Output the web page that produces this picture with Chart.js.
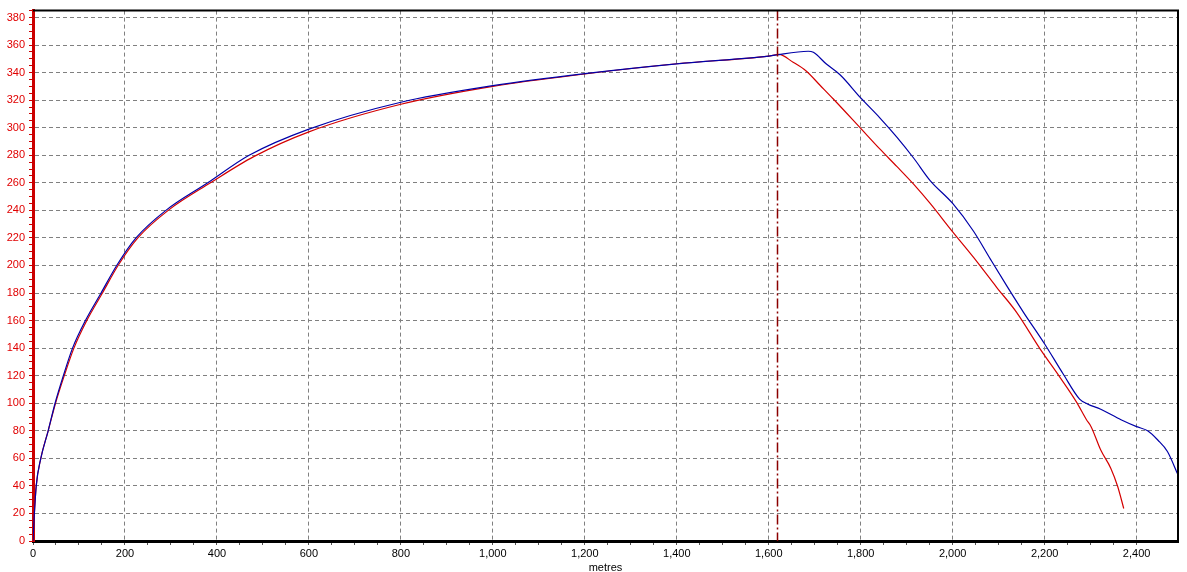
<!DOCTYPE html>
<html>
<head>
<meta charset="utf-8">
<script src="https://cdn.jsdelivr.net/npm/chart.js@4.4.1/dist/chart.umd.min.js"></script>
<style>
  html, body { margin: 0; padding: 0; background: #fff; overflow: hidden; }
</style>
</head>
<body>
<canvas id="chart" width="1187" height="572"></canvas>
<script>
// distance (metres) / speed readings for the two runs
var blueX = [0, 3, 7, 17, 33, 48, 66, 86, 114, 148, 182, 224, 289, 380, 470, 600, 800, 1000, 1200, 1400, 1600, 1686,
    1697, 1726, 1755, 1800, 1842, 1879, 1915, 1951, 2000, 2045, 2082, 2118, 2154, 2200, 2240, 2276, 2293, 2322,
    2366, 2400, 2424, 2446, 2467, 2490];
var blueY = [0, 20, 40, 60, 80, 100, 120, 140, 160, 180, 200, 220, 240, 260, 280, 299, 318.5, 330.5, 339.3, 346.4, 352, 355.5,
    354.7, 346, 338.4, 321.6, 307, 293, 278, 261.6, 245, 225, 204.6, 185, 166, 143, 121.4, 103, 99.5, 95.6,
    88, 83, 80, 73.3, 65, 48];

var redX = [0, 3, 7, 17, 33, 49, 68, 89, 117, 151, 185, 228, 294, 386, 480, 600, 800, 1000, 1200, 1400, 1600, 1622,
    1653, 1682, 1711, 1740, 1800, 1842, 1879, 1915, 1951, 2000, 2045, 2096, 2139, 2190, 2233, 2269, 2291, 2301,
    2322, 2344, 2359, 2372];
var redY = [0, 20, 40, 60, 80, 100, 120, 140, 160, 180, 200, 220, 240, 260, 279, 297, 317, 330, 339, 346.4, 352, 353.2,
    347.5, 341, 331, 321, 299.5, 284.4, 271.7, 259, 245, 224.4, 206, 184, 166, 139.5, 119, 101, 88, 83,
    66, 52.7, 39.4, 23.6];

var markerX = 1619;
var xMax = 2490;
var yMax = 385;

function toPoints(xs, ys) {
    var pts = [];
    for (var i = 0; i < xs.length; i++) {
        pts.push({ x: xs[i], y: ys[i] });
    }
    return pts;
}

var frame = {
    id: "frame",
    afterDatasetsDraw: function (chart) {
        var c = chart.ctx;
        var a = chart.chartArea;
        var px = Math.round(chart.scales.x.getPixelForValue(markerX)) + 0.5;
        c.save();
        c.strokeStyle = "#8b0000";
        c.lineWidth = 1.5;
        c.setLineDash([10, 3, 2, 3]);
        c.beginPath();
        c.moveTo(px, a.top);
        c.lineTo(px, a.bottom);
        c.stroke();
        c.restore();
    },
    afterDraw: function (chart) {
        var c = chart.ctx;
        var a = chart.chartArea;
        c.save();
        c.strokeStyle = "#000";
        c.lineWidth = 2;
        c.beginPath();
        c.moveTo(a.left, a.top);
        c.lineTo(a.right, a.top);
        c.lineTo(a.right, a.bottom);
        c.stroke();
        c.restore();
    }
};

var ctx = document.getElementById("chart").getContext("2d");
var myChart = new Chart(ctx, {
    type: "line",
    data: {
        datasets: [{
            data: toPoints(blueX, blueY),
            borderColor: "#0000a8",
            borderWidth: 1.2,
            pointRadius: 0,
            cubicInterpolationMode: "monotone",
            order: 0
        }, {
            data: toPoints(redX, redY),
            borderColor: "#d40000",
            borderWidth: 1.2,
            pointRadius: 0,
            cubicInterpolationMode: "monotone",
            order: 1
        }]
    },
    options: {
        responsive: false,
        animation: false,
        layout: {
            padding: { top: 8, right: 9, left: 0, bottom: 0 }
        },
        plugins: {
            legend: { display: false },
            tooltip: { enabled: false }
        },
        scales: {
            x: {
                type: "linear",
                min: 0,
                max: xMax,
                afterFit: function (scale) { scale.height = 31; },
                afterBuildTicks: function (scale) {
                    scale.ticks = scale.ticks.filter(function (t) { return t.value % 50 === 0; });
                },
                ticks: {
                    stepSize: 50,
                    autoSkip: false,
                    maxRotation: 0,
                    padding: 2,
                    color: "#000",
                    font: { family: "Liberation Sans", size: 11 },
                    callback: function (v) {
                        return v % 200 === 0 ? v.toLocaleString("en-US") : "";
                    }
                },
                grid: {
                    color: function (c) {
                        return c.tick && c.tick.value % 200 === 0 ? "#808080" : "rgba(0,0,0,0)";
                    },
                    tickColor: "#555",
                    tickLength: 4,
                    lineWidth: 1
                },
                border: { color: "#000", width: 3, dash: [4, 3] },
                title: {
                    display: true,
                    text: "metres",
                    color: "#000",
                    font: { family: "Liberation Sans", size: 11 },
                    padding: { top: 0, bottom: -3 }
                }
            },
            y: {
                min: 0,
                max: yMax,
                afterFit: function (scale) { scale.width = 33; },
                ticks: {
                    stepSize: 5,
                    autoSkip: false,
                    padding: 4,
                    color: "#e00000",
                    font: { family: "Liberation Sans", size: 11 },
                    callback: function (v) {
                        return v % 20 === 0 ? v : "";
                    }
                },
                grid: {
                    color: function (c) {
                        return c.tick && c.tick.value % 20 === 0 && c.tick.value > 0 ? "#808080" : "rgba(0,0,0,0)";
                    },
                    tickColor: "#cc0000",
                    tickLength: 4,
                    lineWidth: 1
                },
                border: { color: "#cc0000", width: 3, dash: [4, 3] }
            }
        }
    },
    plugins: [frame]
});
</script>
</body>
</html>
